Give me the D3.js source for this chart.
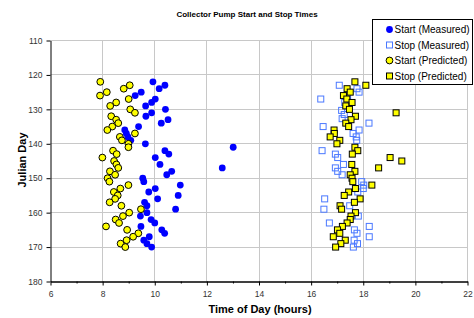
<!DOCTYPE html>
<html>
<head>
<meta charset="utf-8">
<script src="https://cdn.jsdelivr.net/npm/d3@7"></script>
<style>
  body { margin: 0; background: #fff; }
  svg { display: block; font-family: "Liberation Sans", Arial, sans-serif; }
</style>
</head>
<body>
<script>
// Series data: [julian day, time of day in hours]
const startMeasured = [
  [122, 9.93], [123, 10.39], [124, 10.17], [125, 9.48], [126, 9.25], [127, 10.02],
  [128, 9.88], [129, 9.65], [130, 10.41], [131, 9.88], [132, 9.66], [133, 10.51],
  [134, 10.25], [135, 9.38], [136, 8.85], [137, 8.91], [138, 8.97], [139, 9.08],
  [140, 9.64], [141, 13.01], [142, 10.39], [143, 10.54], [144, 10.02], [146, 10.2],
  [147, 12.59], [148, 10.65], [149, 10.46], [150, 9.54], [151, 9.58], [152, 10.98],
  [153, 10.02], [154, 9.77], [155, 10.9], [156, 10.11], [157, 9.61], [158, 9.7],
  [159, 10.8], [160, 9.7], [161, 9.45], [162, 9.86], [163, 10.0], [164, 9.47],
  [165, 10.27], [166, 10.38], [167, 9.79], [168, 9.58], [169, 9.7], [170, 9.88]
];

const stopMeasured = [
  [123, 17.08], [124, 17.76], [125, 17.84], [126, 17.4], [127, 16.37], [128, 17.29],
  [130.3, 17.17], [131.5, 17.27], [132.7, 17.19], [134, 18.22], [135, 16.46], [136, 17.84],
  [137, 17.61], [138, 17.73], [139, 17.75], [142, 16.42], [143, 16.93], [144, 17.02],
  [146, 17.24], [147, 16.93], [148, 17.02], [149, 17.19], [151, 17.94], [152, 18.02],
  [153, 18.0], [154, 17.79], [156, 16.52], [158, 17.48], [159, 16.49], [161, 17.81],
  [163, 16.7], [164, 18.23], [165, 17.66], [166, 17.76], [167, 18.23], [168, 17.65],
  [169, 17.78], [170, 17.62]
];

const startPredicted = [
  [122, 7.91], [123, 9.04], [124, 8.81], [125, 8.16], [126, 7.9], [127, 9.0],
  [128, 8.52], [129, 8.29], [130, 9.06], [131, 9.24], [132, 8.33], [133, 8.52],
  [134, 8.6], [135, 8.37], [136, 8.18], [137, 9.24], [138, 8.66], [139, 8.74],
  [140, 8.99], [141, 8.99], [142, 8.4], [143, 8.54], [144, 7.99], [145, 8.44],
  [146, 8.53], [147, 8.6], [148, 8.28], [149, 8.48], [150, 8.19], [151, 8.26],
  [152, 8.99], [153, 8.68], [154, 8.43], [155, 8.58], [156, 8.48], [157, 8.27],
  [158, 8.72], [159, 9.47], [160, 9.02], [161, 8.78], [162, 8.5], [163, 8.63],
  [164, 8.13], [165, 8.94], [166, 9.37], [167, 9.17], [168, 8.92], [169, 8.69], [170, 8.87]
];

const stopPredicted = [
  [122, 17.68], [123, 18.1], [124, 17.38], [125, 17.5], [126, 17.24], [127, 17.37],
  [128, 17.57], [129, 17.33], [130, 17.47], [131, 19.26], [132, 17.7], [133, 17.53],
  [134, 17.33], [135, 17.44], [136, 16.88], [137, 16.89], [138, 16.73], [139, 17.1],
  [140, 16.99], [141, 17.68], [142, 17.79], [143, 17.58], [144, 19.03], [145, 19.48],
  [146, 17.56], [147, 18.59], [148, 17.68], [149, 17.5], [150, 17.57], [151, 17.6],
  [152, 18.33], [153, 17.7], [154, 17.44], [155, 17.27], [156, 17.88], [157, 17.66],
  [158, 17.11], [159, 17.17], [160, 17.7], [161, 17.53], [162, 17.5], [163, 17.38],
  [164, 17.2], [165, 17.01], [166, 17.1], [167, 16.85], [168, 17.31], [169, 17.14], [170, 16.94]
];

const xTicks = [6, 8, 10, 12, 14, 16, 18, 20, 22];
const xMinorTicks = [7, 9, 11, 13, 15, 17, 19, 21];
const yTicks = [110, 120, 130, 140, 150, 160, 170, 180];
const seriesNames = ['Start (Measured)', 'Stop (Measured)', 'Start (Predicted)', 'Stop (Predicted)'];

const W = 474, H = 318;
const margin = { top: 40, right: 7, bottom: 37, left: 50 };
const plotW = W - margin.left - margin.right;
const plotH = H - margin.top - margin.bottom;

const svg = d3.select('body').append('svg')
  .attr('width', W)
  .attr('height', H);

const x = d3.scaleLinear().domain([6, 22]).range([0, plotW]);
const y = d3.scaleLinear().domain([110, 180]).range([0, plotH]);

const g = svg.append('g')
  .attr('transform', `translate(${margin.left + 0.5}, ${margin.top + 0.5})`);

// gridlines
g.append('g').selectAll('line')
  .data(xTicks.slice(1))
  .join('line')
  .attr('x1', d => Math.round(x(d))).attr('x2', d => Math.round(x(d)))
  .attr('y1', 0).attr('y2', plotH)
  .attr('stroke', '#c8c8c8');

g.append('g').selectAll('line')
  .data(yTicks.slice(0, -1))
  .join('line')
  .attr('x1', 0).attr('x2', plotW)
  .attr('y1', d => Math.round(y(d))).attr('y2', d => Math.round(y(d)))
  .attr('stroke', '#c8c8c8');

// axes
const styleAxis = sel => {
  sel.select('.domain').attr('stroke', '#000');
  sel.selectAll('.tick line').attr('stroke', '#000');
  sel.selectAll('.tick text')
    .attr('fill', '#333')
    .style('font-size', '8.5px')
    .style('font-family', '"Liberation Sans", Arial, sans-serif');
};

g.append('g')
  .attr('transform', `translate(0, ${Math.round(plotH)})`)
  .call(d3.axisBottom(x).tickValues(xMinorTicks).tickSize(2).tickFormat('').tickSizeOuter(0))
  .call(styleAxis);

g.append('g')
  .attr('transform', `translate(0, ${Math.round(plotH)})`)
  .call(d3.axisBottom(x).tickValues(xTicks).tickSize(4).tickPadding(5).tickFormat(d3.format('d')).tickSizeOuter(0))
  .call(styleAxis);

g.append('g')
  .call(d3.axisLeft(y).tickValues(yTicks).tickSize(4).tickPadding(4).tickSizeOuter(0))
  .call(styleAxis);

// markers
const r = 3.4;
const sq = 6;

g.append('g').selectAll('circle')
  .data(startMeasured)
  .join('circle')
  .attr('cx', d => x(d[1]))
  .attr('cy', d => y(d[0]))
  .attr('r', r)
  .attr('fill', '#0000ff');

g.append('g').selectAll('rect')
  .data(stopMeasured)
  .join('rect')
  .attr('x', d => x(d[1]) - sq / 2)
  .attr('y', d => y(d[0]) - sq / 2)
  .attr('width', sq)
  .attr('height', sq)
  .attr('fill', 'none')
  .attr('stroke', '#4a78ff')
  .attr('stroke-width', 1);

g.append('g').selectAll('circle')
  .data(startPredicted)
  .join('circle')
  .attr('cx', d => x(d[1]))
  .attr('cy', d => y(d[0]))
  .attr('r', r)
  .attr('fill', '#ffff00')
  .attr('stroke', '#000')
  .attr('stroke-width', 1);

g.append('g').selectAll('rect')
  .data(stopPredicted)
  .join('rect')
  .attr('x', d => x(d[1]) - sq / 2)
  .attr('y', d => y(d[0]) - sq / 2)
  .attr('width', sq)
  .attr('height', sq)
  .attr('fill', '#ffff00')
  .attr('stroke', '#000')
  .attr('stroke-width', 1);

// title and axis labels
svg.append('text')
  .attr('x', 247)
  .attr('y', 17)
  .attr('text-anchor', 'middle')
  .style('font-size', '8px')
  .style('font-weight', 'bold')
  .text('Collector Pump Start and Stop Times');

svg.append('text')
  .attr('x', 260)
  .attr('y', 313)
  .attr('text-anchor', 'middle')
  .style('font-size', '11px')
  .style('font-weight', 'bold')
  .text('Time of Day (hours)');

svg.append('text')
  .attr('transform', 'translate(26, 160) rotate(-90)')
  .attr('text-anchor', 'middle')
  .style('font-size', '11px')
  .style('font-weight', 'bold')
  .text('Julian Day');

// legend
const legend = svg.append('g').attr('transform', 'translate(372.5, 19.5)');
legend.append('rect')
  .attr('width', 100)
  .attr('height', 65)
  .attr('fill', '#fff')
  .attr('stroke', '#000');

const item = legend.selectAll('.legend')
  .data(seriesNames)
  .join('g')
  .attr('class', 'legend')
  .attr('transform', (_, i) => `translate(17, ${10 + i * 15.5})`);

item.each(function (d, i) {
  const s = d3.select(this);
  if (i === 0) s.append('circle').attr('r', r).attr('fill', '#0000ff');
  if (i === 1) s.append('rect').attr('x', -sq / 2).attr('y', -sq / 2).attr('width', sq).attr('height', sq)
    .attr('fill', 'none').attr('stroke', '#4a78ff');
  if (i === 2) s.append('circle').attr('r', r).attr('fill', '#ffff00').attr('stroke', '#000');
  if (i === 3) s.append('rect').attr('x', -sq / 2).attr('y', -sq / 2).attr('width', sq).attr('height', sq)
    .attr('fill', '#ffff00').attr('stroke', '#000');
});

item.append('text')
  .attr('x', 5)
  .attr('dy', '0.35em')
  .style('font-size', '10px')
  .text(d => d);
</script>
</body>
</html>
